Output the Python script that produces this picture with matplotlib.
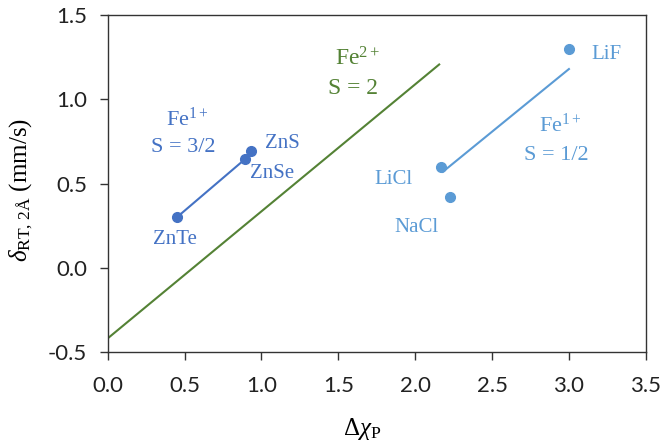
import matplotlib
matplotlib.use("Agg")
import matplotlib.pyplot as plt

# data
zn_names = ['ZnTe', 'ZnSe', 'ZnS']
zn_x = [0.45, 0.893, 0.93]
zn_y = [0.30, 0.645, 0.693]

li_names = ['LiCl', 'NaCl', 'LiF']
li_x = [2.17, 2.225, 3.0]
li_y = [0.596, 0.418, 1.296]
li_err = [0.0, 0.0, 0.025]

# fitted trend lines (end points)
fe2_x = [0.0, 2.156]
fe2_y = [-0.419, 1.207]
fe1_32_x = [0.45, 0.893]
fe1_32_y = [0.30, 0.645]
fe1_12_x = [2.18, 3.0]
fe1_12_y = [0.57, 1.18]

green = '#548235'
blue = '#4472C4'
lblue = '#5B9BD5'

plt.rcParams['mathtext.fontset'] = 'custom'
plt.rcParams['mathtext.rm'] = 'Liberation Serif'
plt.rcParams['mathtext.it'] = 'Liberation Serif:italic'
serif = 'Liberation Serif'

fig = plt.figure(figsize=(6.61, 4.45), dpi=100)
ax = fig.add_axes([0.163, 0.209, 0.814, 0.757])

ax.plot(fe2_x, fe2_y, color=green, lw=1.5)
ax.plot(fe1_32_x, fe1_32_y, color=blue, lw=1.5)
ax.plot(fe1_12_x, fe1_12_y, color=lblue, lw=1.5)

ax.plot(zn_x, zn_y, 'o', color=blue, ms=7, ls='none')
ax.errorbar(li_x, li_y, yerr=li_err, fmt='o', color=lblue, ms=7,
            elinewidth=1, capsize=0)

# point labels
lab_pos = {'ZnTe': (0.436, 0.165), 'ZnSe': (1.07, 0.559), 'ZnS': (1.139, 0.74),
           'LiCl': (1.861, 0.527), 'NaCl': (2.007, 0.239), 'LiF': (3.247, 1.269)}
for n in zn_names:
    ax.text(*lab_pos[n], n, color=blue, fontsize=15, family=serif,
            ha='center', va='center')
for n in li_names:
    ax.text(*lab_pos[n], n, color=lblue, fontsize=15, family=serif,
            ha='center', va='center')

ax.text(1.627, 1.239, r'Fe$^{2+}$', color=green, fontsize=17, family=serif,
        ha='center', va='center')
ax.text(1.594, 1.067, 'S = 2', color=green, fontsize=17, family=serif,
        ha='center', va='center')
ax.text(0.514, 0.883, r'Fe$^{1+}$', color=blue, fontsize=16, family=serif,
        ha='center', va='center')
ax.text(0.494, 0.717, 'S = 3/2', color=blue, fontsize=16, family=serif,
        ha='center', va='center')
ax.text(2.941, 0.847, r'Fe$^{1+}$', color=lblue, fontsize=16, family=serif,
        ha='center', va='center')
ax.text(2.921, 0.669, 'S = 1/2', color=lblue, fontsize=16, family=serif,
        ha='center', va='center')

ax.set_xlim(0, 3.5)
ax.set_ylim(-0.5, 1.5)
ax.set_xticks([0, 0.5, 1.0, 1.5, 2.0, 2.5, 3.0, 3.5])
ax.set_yticks([-0.5, 0.0, 0.5, 1.0, 1.5])
ax.xaxis.set_major_formatter(matplotlib.ticker.FormatStrFormatter('%.1f'))
ax.yaxis.set_major_formatter(matplotlib.ticker.FormatStrFormatter('%.1f'))
ax.tick_params(direction='out', length=6, width=1, color='#333333',
               labelsize=16, pad=9, labelcolor='#222222')
ax.tick_params(axis='x', pad=11)
for lbl in ax.get_xticklabels() + ax.get_yticklabels():
    lbl.set_family('Lato')
for s in ax.spines.values():
    s.set_color('#333333')
    s.set_linewidth(1)

ax.set_xlabel(r'$\Delta\chi_{\mathrm{P}}$', fontsize=18, family=serif, va='center')
ax.set_ylabel(r'$\delta_{\mathrm{RT,\,2Å}}\ \mathrm{(mm/s)}$', fontsize=18,
              family=serif, va='center')
ax.xaxis.set_label_coords(0.472, -0.228)
ax.yaxis.set_label_coords(-0.160, 0.48)

fig.savefig('out.png', dpi=100)
